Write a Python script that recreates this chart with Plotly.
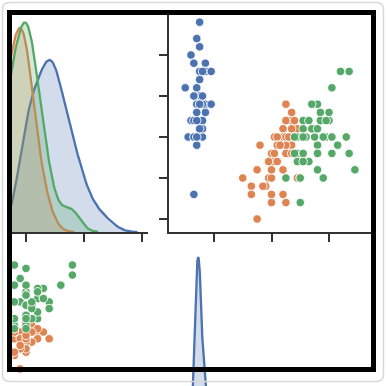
import numpy as np
import plotly.graph_objects as go

W = H = 386

# ---- data (iris: sepal width / petal length per species) ----
species = ["setosa", "versicolor", "virginica"]
colors = ["#4c72b0", "#dd8452", "#55a868"]

sepal_width_setosa = [3.5,3.0,3.2,3.1,3.6,3.9,3.4,3.4,2.9,3.1,3.7,3.4,3.0,3.0,4.0,4.4,3.9,3.5,3.8,3.8,
                      3.4,3.7,3.6,3.3,3.4,3.0,3.4,3.5,3.4,3.2,3.1,3.4,4.1,4.2,3.1,3.2,3.5,3.6,3.0,3.4,
                      3.5,2.3,3.2,3.5,3.8,3.0,3.8,3.2,3.7,3.3]
petal_length_setosa = [1.4,1.4,1.3,1.5,1.4,1.7,1.4,1.5,1.4,1.5,1.5,1.6,1.4,1.1,1.2,1.5,1.3,1.4,1.7,1.5,
                       1.7,1.5,1.0,1.7,1.9,1.6,1.6,1.5,1.4,1.6,1.6,1.5,1.5,1.4,1.5,1.2,1.3,1.4,1.3,1.5,
                       1.3,1.3,1.3,1.6,1.9,1.4,1.6,1.4,1.5,1.4]
sepal_width_versicolor = [3.2,3.2,3.1,2.3,2.8,2.8,3.3,2.4,2.9,2.7,2.0,3.0,2.2,2.9,2.9,3.1,3.0,2.7,2.2,2.5,
                          3.2,2.8,2.5,2.8,2.9,3.0,2.8,3.0,2.9,2.6,2.4,2.4,2.7,2.7,3.0,3.4,3.1,2.3,3.0,2.5,
                          2.6,3.0,2.6,2.3,2.7,3.0,2.9,2.9,2.5,2.8]
petal_length_versicolor = [4.7,4.5,4.9,4.0,4.6,4.5,4.7,3.3,4.6,3.9,3.5,4.2,4.0,4.7,3.6,4.4,4.5,4.1,4.5,3.9,
                           4.8,4.0,4.9,4.7,4.3,4.4,4.8,5.0,4.5,3.5,3.8,3.7,3.9,5.1,4.5,4.5,4.7,4.4,4.1,4.0,
                           4.4,4.6,4.0,3.3,4.2,4.2,4.2,4.3,3.0,4.1]
sepal_width_virginica = [3.3,2.7,3.0,2.9,3.0,3.0,2.5,2.9,2.5,3.6,3.2,2.7,3.0,2.5,2.8,3.2,3.0,3.8,2.6,2.2,
                         3.2,2.8,2.8,2.7,3.3,3.2,2.8,3.0,2.8,3.0,2.8,3.8,2.8,2.8,2.6,3.0,3.4,3.1,3.0,3.1,
                         3.1,3.1,2.7,3.2,3.3,3.0,2.5,3.0,3.4,3.0]
petal_length_virginica = [6.0,5.1,5.9,5.6,5.8,6.6,4.5,6.3,5.8,6.1,5.1,5.3,5.5,5.0,5.1,5.3,5.5,6.7,6.9,5.0,
                          5.7,4.9,6.7,4.9,5.7,6.0,4.8,4.9,5.6,5.8,6.1,6.4,5.6,5.1,5.6,6.1,5.6,5.5,4.8,5.4,
                          5.6,5.1,5.1,5.9,5.7,5.2,5.0,5.2,5.4,5.1]

sepal_width = [sepal_width_setosa, sepal_width_versicolor, sepal_width_virginica]
petal_length = [petal_length_setosa, petal_length_versicolor, petal_length_virginica]

sw_ticks = [2.0, 2.5, 3.0, 3.5, 4.0, 4.5]
sw_ticks_x = [3, 4, 5]
pl_ticks_x = [2, 4, 6]
pl_ticks_y = [4, 5, 6, 7]


def kde(values, n_total):
    d = np.asarray(values, float)
    bw = d.std(ddof=1) * len(d) ** (-0.2)
    grid = np.linspace(d.min() - 3 * bw, d.max() + 3 * bw, 200)
    dens = np.exp(-0.5 * ((grid[:, None] - d[None, :]) / bw) ** 2).sum(1) / (len(d) * bw * np.sqrt(2 * np.pi))
    return grid, dens * len(d) / n_total


n_total = sum(len(v) for v in sepal_width)

# pixel <-> value mappings (layout geometry)
col0 = lambda px: 4 + (px - 84) / 58.0       # sepal width on x
col1 = lambda px: 2 + (px - 214) / 28.75     # petal length on x
row0 = lambda py: 3 - (py - 137) / 82.0      # sepal width on y
row1 = lambda py: 7 - (py - 255) / 33.5      # petal length on y

LINE = "#333333"

def rgba(hexc, a):
    h = hexc.lstrip("#")
    return "rgba(%d,%d,%d,%.2f)" % (int(h[0:2], 16), int(h[2:4], 16), int(h[4:6], 16), a)

fig = go.Figure()

# top-left KDE (sepal width)
kd_top = [kde(v, n_total) for v in sepal_width]
max_top = max(d.max() for _, d in kd_top)
for (g, d), c in zip(kd_top, colors):
    fig.add_trace(go.Scatter(x=g, y=d, mode="lines", line=dict(color=c, width=2.3),
                             fill="tozeroy", fillcolor=rgba(c, 0.25), xaxis="x", yaxis="y",
                             hoverinfo="skip", showlegend=False))

# top-right scatter: x petal length, y sepal width
for pl, sw, c in zip(petal_length, sepal_width, colors):
    fig.add_trace(go.Scatter(x=pl, y=sw, mode="markers", xaxis="x2", yaxis="y2",
                             marker=dict(color=c, size=8.5, line=dict(color="white", width=0.9)),
                             showlegend=False))

# bottom-left scatter: x sepal width, y petal length
for pl, sw, c in zip(petal_length, sepal_width, colors):
    fig.add_trace(go.Scatter(x=sw, y=pl, mode="markers", xaxis="x3", yaxis="y3",
                             marker=dict(color=c, size=8.5, line=dict(color="white", width=0.9)),
                             showlegend=False))

# bottom-right KDE (petal length)
kd_bot = [kde(v, n_total) for v in petal_length]
max_bot = max(d.max() for _, d in kd_bot)
for (g, d), c in zip(kd_bot, colors):
    fig.add_trace(go.Scatter(x=g, y=d, mode="lines", line=dict(color=c, width=2.3),
                             fill="tozeroy", fillcolor=rgba(c, 0.25), xaxis="x5", yaxis="y5",
                             hoverinfo="skip", showlegend=False))

top_dom = [1 - 232 / H, 1 - 13 / H]
bot_dom = [0, 1 - 245 / H]
c0_dom = [10 / W, 148 / W]
c1_dom = [169 / W, 375 / W]

axline = dict(showline=True, linecolor=LINE, linewidth=1.5, ticks="outside", ticklen=8,
              tickwidth=1.5, tickcolor=LINE, showticklabels=False, showgrid=False, zeroline=False)
noax = dict(showline=False, ticks="", showticklabels=False, showgrid=False, zeroline=False)

top_kde_range = [0, 1.05 * max_top * (232 - 13) / (232 - 12)]
BASE = 500.0
bot_kde_range = [1.05 * max_bot * (BASE - 386) / (BASE - 245), 1.05 * max_bot]

fig.update_layout(
    width=W, height=H, margin=dict(l=0, r=0, t=0, b=0),
    paper_bgcolor="white", plot_bgcolor="rgba(0,0,0,0)", showlegend=False,
    xaxis=dict(domain=c0_dom, range=[col0(10), col0(148)], anchor="y", tickvals=sw_ticks_x, **axline),
    yaxis=dict(domain=top_dom, range=top_kde_range, anchor="x", **noax),
    xaxis2=dict(domain=c1_dom, range=[col1(169), col1(375)], anchor="y2", tickvals=pl_ticks_x, **axline),
    yaxis2=dict(domain=top_dom, range=[row0(232), row0(13)], anchor="x2", tickvals=sw_ticks, **axline),
    xaxis3=dict(domain=c0_dom, range=[col0(10), col0(148)], anchor="y3", **noax),
    yaxis3=dict(domain=bot_dom, range=[row1(386), row1(245)], anchor="x3", **noax),
    xaxis4=dict(domain=c1_dom, range=[col1(169), col1(375)], anchor="y4", **noax),
    yaxis4=dict(domain=bot_dom, range=[row1(386), row1(245)], anchor="x4", tickvals=pl_ticks_y, **axline),
    xaxis5=dict(domain=c1_dom, range=[col1(169), col1(375)], anchor="y5", **noax),
    yaxis5=dict(domain=bot_dom, range=bot_kde_range, anchor="x5", **noax),
)

# card border with rounded corners
def P(px, py):
    return "%.5f,%.5f" % (px / W, 1 - py / H)

x0, y0, x1, y1, r = 2.5, 2.5, 383.5, 381.5, 7
card = ("M " + P(x0 + r, y0) + " L " + P(x1 - r, y0) + " Q " + P(x1, y0) + " " + P(x1, y0 + r) +
        " L " + P(x1, y1 - r) + " Q " + P(x1, y1) + " " + P(x1 - r, y1) +
        " L " + P(x0 + r, y1) + " Q " + P(x0, y1) + " " + P(x0, y1 - r) +
        " L " + P(x0, y0 + r) + " Q " + P(x0, y0) + " " + P(x0 + r, y0) + " Z")
fig.add_shape(type="path", path=card, xref="paper", yref="paper",
              line=dict(color="#d8d8d8", width=1.5), layer="above")
# thick black frame
fig.add_shape(type="rect", xref="paper", yref="paper",
              x0=9.5 / W, x1=373.5 / W, y0=1 - 369.5 / H, y1=1 - 12.5 / H,
              line=dict(color="black", width=5), layer="above")

fig.write_html("out.html", config={"displayModeBar": False},
               post_script="document.body.style.margin='0px';document.body.style.overflow='hidden';")
